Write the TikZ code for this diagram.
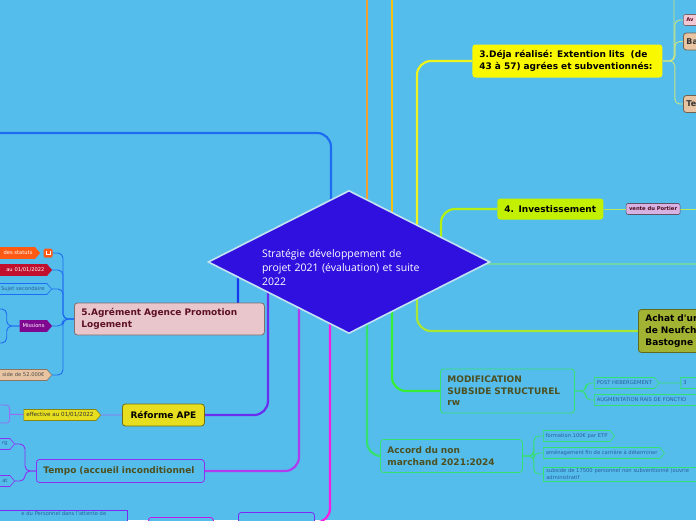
\documentclass[tikz,border=0pt]{standalone}
\usepackage{fontspec}
\usepackage{tikz}
\usetikzlibrary{positioning,shapes.geometric,shapes.symbols,backgrounds}
\newfontfamily\boxfont{DejaVu Sans}
\newfontfamily\titlefont{Open Sans}
\definecolor{mapbg}{HTML}{55BDEB}
\definecolor{corefill}{HTML}{2F10DF}
\definecolor{coreedge}{HTML}{C4E2F2}
\definecolor{brblue}{HTML}{1E6CF2}
\definecolor{brdeep}{HTML}{1838F0}
\definecolor{brviolet}{HTML}{6A2EF0}
\definecolor{brpurple}{HTML}{B03CF0}
\definecolor{brmagenta}{HTML}{F420E4}
\definecolor{brorange}{HTML}{F2A032}
\definecolor{brgold}{HTML}{F6C010}
\definecolor{bryellow}{HTML}{F0F41E}
\definecolor{brlime}{HTML}{B4F010}
\definecolor{brolive}{HTML}{A8E638}
\definecolor{brgreen}{HTML}{36EE36}
\definecolor{brmint}{HTML}{34E070}
\definecolor{brsea}{HTML}{72D6A4}
\definecolor{agrfill}{HTML}{E8C6CB}
\definecolor{agrtext}{HTML}{5E1024}
\definecolor{apeyellow}{HTML}{E6DE1E}
\definecolor{dejayellow}{HTML}{FAF800}
\definecolor{investlime}{HTML}{C2F000}
\definecolor{achatolive}{HTML}{A2B232}
\definecolor{olivetext}{HTML}{4C5020}
\definecolor{smalltext}{HTML}{2A5E9C}
\definecolor{tanfill}{HTML}{E8C4A2}
\definecolor{statorange}{HTML}{FF5A14}
\definecolor{crimson}{HTML}{C0102E}
\definecolor{missionpurple}{HTML}{800890}
\definecolor{lavender}{HTML}{D8B2E2}
\definecolor{pinkfill}{HTML}{F2C8D4}
\definecolor{pale}{HTML}{C8E486}
\pgfdeclarelayer{edges}
\pgfsetlayers{background,edges,main}

\begin{document}
\begin{tikzpicture}[
  x=1pt, y=-1pt,
  node distance=8pt and 20pt,
  topic/.style={draw, rounded corners=3pt, anchor=west, align=left, line width=0.8pt,
    inner xsep=7pt, inner ysep=0pt, font=\boxfont\bfseries\fontsize{9}{11.6}\selectfont},
  tagbox/.style={signal, signal to=east, signal pointer angle=100, draw, line width=0.6pt,
    anchor=east, inner xsep=2.5pt, inner ysep=1.2pt, minimum height=11pt,
    font=\boxfont\fontsize{5.2}{6.5}\selectfont},
  notebox/.style={draw, rounded corners=2pt, line width=0.6pt, anchor=west, align=left,
    inner xsep=3pt, inner ysep=1.5pt, font=\boxfont\fontsize{5.2}{6.5}\selectfont},
  branch/.style={line width=2.2pt, rounded corners=14pt},
  twig/.style={line width=0.9pt, rounded corners=5pt}
]
% background and page size
\begin{pgfonlayer}{background}
\fill[mapbg] (0,0) rectangle (696,520);
\end{pgfonlayer}
\useasboundingbox (0,0) rectangle (696,520);

% central topic
\node[diamond, aspect=2, fill=corefill, draw=coreedge, line width=1.6pt, minimum width=282pt,
  minimum height=143pt, inner sep=0pt, text=white, text width=174pt, align=left,
  font=\titlefont\fontsize{10.5}{14}\selectfont] (ctr) at (349,262)
  {\rule{0pt}{19pt}Stratégie développement de\\projet 2021 (évaluation) et suite\\2022};

% main topics
\node[topic, fill=dejayellow, draw=none, minimum width=190pt, minimum height=33pt, text width=176pt] (deja) at (472,61)
  {3.Déja réalisé: Extention lits\ \ (de\\43 à 57) agrées et subventionnés:};
\node[topic, fill=investlime, draw=none, minimum width=106pt, minimum height=21pt, text width=92pt] (invest) at (497,209)
  {4. Investissement};
\node[topic, fill=achatolive, draw=achatolive!60!black, minimum width=100pt, minimum height=43pt, text width=86pt] (achat) at (638,331)
  {Achat d'un\\de Neufch\\Bastogne};
\node[topic, fill=mapbg, draw=brmint, text=olivetext, minimum width=134pt, minimum height=44pt, text width=120pt] (modif) at (440,391)
  {MODIFICATION\\SUBSIDE STRUCTUREL\\rw};
\node[topic, fill=mapbg, draw=brmint, text=olivetext, minimum width=142pt, minimum height=33pt, text width=128pt] (accord) at (380,456)
  {Accord du non\\marchand 2021:2024};
\node[topic, fill=agrfill, draw=agrfill!55!black, text=agrtext, minimum width=190pt, minimum height=32pt, text width=176pt] (agrement) at (74,319)
  {5.Agrément Agence Promotion\\Logement};
\node[topic, fill=apeyellow, draw=apeyellow!50!black, align=center, minimum width=82pt, minimum height=22pt, text width=68pt] (reforme) at (122,415)
  {Réforme APE};
\node[topic, fill=mapbg, draw=brpurple!80!blue, text=olivetext, minimum width=168pt, minimum height=23pt, text width=154pt] (tempo) at (36,471)
  {Tempo (accueil inconditionnel};
\node[topic, fill=mapbg, draw=brpurple!70!blue, anchor=north west, minimum width=76pt, minimum height=20pt] (basmilieu) at (238,512) {};
\node[topic, fill=mapbg, draw=brmagenta!80!blue, anchor=north west, minimum width=65pt, minimum height=20pt] (basgauche) at (148,517) {};
\node[notebox, fill=mapbg, draw=brpurple!70!blue, text=smalltext, rounded corners=0pt, anchor=north east,
  text depth=14pt, text width=140pt, align=right, inner ysep=1pt] (personnel) at (128,510)
  {e du Personnel dans l'attente de\phantom{xxxxxx}};

% 3. children
\node[notebox, fill=pinkfill, draw=pinkfill!50!black, text=agrtext, font=\boxfont\bfseries\fontsize{5.2}{6.5}\selectfont,
  text width=20pt, minimum height=11pt] (avis) at (683,20) {Av};
\node[topic, fill=tanfill, draw=tanfill!50!black, text=black!80, minimum height=17pt, text width=30pt, inner xsep=3pt,
  font=\boxfont\bfseries\fontsize{8}{10}\selectfont] (batiment) at (683,41.5) {Ba};
\node[topic, fill=tanfill, draw=tanfill!50!black, text=black!80, minimum height=17pt, text width=30pt, inner xsep=3pt,
  font=\boxfont\bfseries\fontsize{8}{10}\selectfont] (travaux) at (683,104) {Te};
\coordinate (dejaup) at (674,-5);

% 4. children
\node[notebox, fill=lavender, draw=lavender!45!black, text=agrtext!80!black, font=\boxfont\bfseries\fontsize{5.2}{6.5}\selectfont,
  minimum height=11pt, right=22pt of invest] (vente) {vente du Portier};
\coordinate (venteout) at (700,209);

% modification children
\node[tagbox, draw=brmint, text=smalltext, anchor=west] (post) at (594,383) {POST HEBERGEMENT};
\node[tagbox, draw=brmint, text=smalltext, anchor=west, text width=20pt, align=left, right=21pt of post] (postval) {3};
\node[tagbox, draw=brmint, text=smalltext, anchor=west, text width=130pt, align=left] (augment) at (594,400) {AUGMENTATION RAIS DE FONCTIO};

% accord children
\node[tagbox, draw=brmint, text=smalltext, anchor=west] (formation) at (543,436) {formation 100€ par ETP};
\node[tagbox, draw=brmint, text=smalltext, anchor=west] (amenag) at (543,453) {aménagement fin de carrière à déterminer};
\node[notebox, draw=brmint, text=smalltext, rounded corners=0pt, text width=170pt] (subside) at (543,474)
  {subside de 17500 personnel non subventionné (ouvrie\\administratif};

% 5. children
\node[tagbox, fill=statorange, draw=statorange, text=white, text width=46pt, align=right] (statuts) at (40,253) {des statuts};
\node[fill=statorange, rounded corners=1.5pt, minimum size=9pt, inner sep=0pt] (statuticon) at (48,253) {};
\draw[white, line width=0.9pt] ([shift={(-2,-2.5)}]statuticon.center) -- ++(0,3.5) -- ++(4,0) -- ++(0,-3.5);
\node[tagbox, fill=crimson, draw=crimson, text=white, text width=52pt, align=right] (datestat) at (52,270) {au 01/01/2022};
\node[tagbox, draw=brblue, text=smalltext, text width=52pt, align=right] (sujet) at (52,289) {Sujet secondaire};
\node[tagbox, fill=missionpurple, draw=missionpurple, text=white] (missions) at (52,326) {Missions};
\node[tagbox, fill=tanfill, draw=tanfill!60!black, text=black!70, text width=54pt, align=right] (subsidea) at (52,375) {side de 52.000€};
\coordinate (missionhaut) at (-6,309);
\coordinate (missionbas) at (-6,343);

% APE children
\node[tagbox, fill=apeyellow, draw=apeyellow!60!black, text=black!80, font=\boxfont\fontsize{5.6}{7}\selectfont,
  left=21pt of reforme] (effective) {effective au 01/01/2022};
\node[draw=brviolet!70!white, rounded corners=3pt, line width=0.8pt, anchor=east, minimum width=40pt, minimum height=18pt] (apesuite) at (10,414) {};

% Tempo children
\node[tagbox, draw=brpurple!80!blue, text=smalltext, text width=30pt, align=right] (tempohaut) at (15,444) {rg};
\node[tagbox, draw=brpurple!80!blue, text=smalltext, text width=30pt, align=right] (tempobas) at (15,481) {at};

\coordinate (hautgauche) at (-5,133);
\coordinate (orangeup) at (367,-5);
\coordinate (goldup) at (392,-5);
\coordinate (droiteout) at (700,264);

\begin{pgfonlayer}{edges}
% branches from the centre
\draw[branch, brblue] ([xshift=-18pt]ctr.center) |- (hautgauche);
\draw[branch, brorange] ([xshift=18pt]ctr.center) -- (orangeup);
\draw[branch, brgold] ([xshift=43pt]ctr.center) -- (goldup);
\draw[branch, bryellow] ([xshift=68pt]ctr.center) |- (deja.west);
\draw[branch, brlime] ([xshift=92pt]ctr.center) |- (invest.west);
\draw[branch, brsea, line width=1.6pt] (ctr.center |- droiteout) -- (droiteout);
\draw[branch, brolive] ([xshift=68pt]ctr.center) |- (achat.west);
\draw[branch, brgreen] ([xshift=43pt]ctr.center) |- (modif.west);
\draw[branch, brmint] ([xshift=18pt]ctr.center) |- (accord.west);
\draw[branch, brmagenta] ([xshift=-19pt]ctr.center) |- (basmilieu.east);
\draw[branch, brpurple] ([xshift=-50pt]ctr.center) |- (tempo.east);
\draw[branch, brviolet] ([xshift=-81pt]ctr.center) |- (reforme.east);
\draw[branch, brdeep] ([xshift=-111pt]ctr.center) |- (agrement.center);

% sub branches
\draw[twig, pale] (deja.east) -| (dejaup);
\draw[twig, pale] (deja.east) -- ++(12,0) |- (avis.west);
\draw[twig, pale] (deja.east) -- ++(12,0) |- (batiment.west);
\draw[twig, pale] (deja.east) -- ++(12,0) |- (travaux.west);
\draw[twig, brolive!80!white] (invest) -- (vente);
\draw[twig, brolive!80!white] (vente) -- (venteout);
\draw[twig, brmint] (modif.east) -- ++(11,0) |- (post.west);
\draw[twig, brmint] (modif.east) -- ++(11,0) |- (augment.west);
\draw[twig, brmint] (post) -- (postval);
\draw[twig, brmint] (accord.east) -- ++(11,0) |- (formation.west);
\draw[twig, brmint] (accord.east) -- ++(11,0) |- (amenag.west);
\draw[twig, brmint] (accord.east) -- ++(11,0) |- (subside.west);
\draw[twig, brblue] (agrement.west) -- ++(-11,0) |- (statuticon.east);
\draw[twig, brblue] (agrement.west) -- ++(-11,0) |- (datestat.east);
\draw[twig, brblue] (agrement.west) -- ++(-11,0) |- (sujet.east);
\draw[twig, brblue] (agrement.west) -- ++(-11,0) |- (missions.east);
\draw[twig, brblue] (agrement.west) -- ++(-11,0) |- (subsidea.east);
\draw[twig, brblue] (missions.west) -- ++(-13,0) |- (missionhaut);
\draw[twig, brblue] (missions.west) -- ++(-13,0) |- (missionbas);
\draw[twig, brviolet!70!white] (reforme) -- (effective);
\draw[twig, brviolet!70!white] (effective) -- (apesuite);
\draw[twig, brpurple!80!blue] (tempo.west) -- ++(-11,0) |- (tempohaut.east);
\draw[twig, brpurple!80!blue] (tempo.west) -- ++(-11,0) |- (tempobas.east);
\end{pgfonlayer}
\end{tikzpicture}
\end{document}
